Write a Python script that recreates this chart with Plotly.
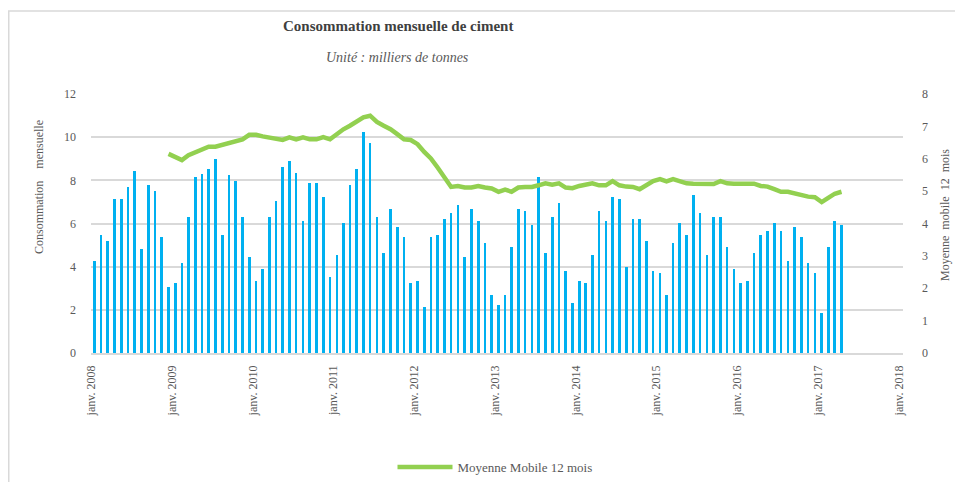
import plotly.graph_objects as go
import pandas as pd

# Monthly cement consumption (Jan 2008 - Apr 2017)
months = pd.date_range("2008-01-01", "2017-04-01", freq="MS").strftime("%Y-%m-%d").tolist()

consommation = [
    4.26, 5.48, 5.19, 7.14, 7.14, 7.69, 8.44, 4.81, 7.77, 7.51, 5.37, 3.07,   # 2008
    3.25, 4.18, 6.32, 8.16, 8.31, 8.53, 8.98, 5.48, 8.24, 7.97, 6.32, 4.44,   # 2009
    3.34, 3.90, 6.32, 7.04, 8.61, 8.90, 8.33, 6.11, 7.86, 7.86, 7.23, 3.53,   # 2010
    4.54, 6.02, 7.77, 8.51, 10.26, 9.72, 6.32, 4.64, 6.67, 5.84, 5.37, 3.25,  # 2011
    3.33, 2.12, 5.37, 5.46, 6.19, 6.49, 6.86, 4.44, 6.67, 6.11, 5.09, 2.68,   # 2012
    2.23, 2.68, 4.91, 6.67, 6.56, 5.93, 8.14, 4.63, 6.32, 6.95, 3.79, 2.32,   # 2013
    3.34, 3.25, 4.54, 6.58, 6.11, 7.23, 7.14, 3.98, 6.21, 6.21, 5.19, 3.79,   # 2014
    3.72, 2.68, 5.09, 6.02, 5.46, 7.32, 6.49, 4.54, 6.32, 6.32, 4.91, 3.90,   # 2015
    3.25, 3.33, 4.63, 5.46, 5.65, 6.02, 5.65, 4.26, 5.84, 5.37, 4.16, 3.72,   # 2016
    1.86, 4.91, 6.11, 5.93,                                                   # 2017
]

# 12-month moving average (Dec 2008 - Apr 2017)
mm_months = months[11:]
moyenne_mobile = [
    6.15,                                                                      # Dec 2008
    6.07, 5.96, 6.11, 6.19, 6.30, 6.37, 6.37, 6.42, 6.48, 6.54, 6.60, 6.74,   # 2009
    6.74, 6.69, 6.66, 6.60, 6.58, 6.66, 6.60, 6.66, 6.60, 6.60, 6.67, 6.60,   # 2010
    6.76, 6.91, 7.02, 7.15, 7.28, 7.33, 7.14, 7.02, 6.91, 6.76, 6.60, 6.58,   # 2011
    6.45, 6.21, 6.01, 5.73, 5.42, 5.13, 5.16, 5.11, 5.11, 5.16, 5.11, 5.08,   # 2012
    4.98, 5.05, 4.98, 5.11, 5.13, 5.13, 5.18, 5.24, 5.20, 5.24, 5.11, 5.09,   # 2013
    5.16, 5.21, 5.24, 5.18, 5.18, 5.31, 5.18, 5.14, 5.13, 5.06, 5.18, 5.31,   # 2014
    5.37, 5.30, 5.37, 5.31, 5.24, 5.23, 5.22, 5.22, 5.22, 5.31, 5.24, 5.23,   # 2015
    5.23, 5.23, 5.23, 5.16, 5.14, 5.06, 4.98, 4.98, 4.92, 4.87, 4.83, 4.81,   # 2016
    4.66, 4.79, 4.92, 4.98,                                                   # 2017
]

tick_vals = [f"{y}-01-01" for y in range(2008, 2019)]
tick_text = [f"janv. {y}" for y in range(2008, 2019)]

FONT = "Liberation Serif"
GRAY = "#595959"

# page body has an 8px margin: figure drawn 8px in from the window's corner
W, H = 955, 474
L, T, R, B = 83, 86, 60, 129
PW, PH = W - L - R, H - T - B


def px(xabs):
    return (xabs - 8 - L) / PW


def py(yabs):
    return (H - B - (yabs - 8)) / PH


fig = go.Figure()
fig.add_trace(go.Bar(
    x=months, y=consommation, name="Consommation mensuelle",
    xperiod="M1", xperiodalignment="middle",
    width=[12 * 86400000] * len(months),
    marker=dict(color="#00B0F0", line=dict(width=0)),
    showlegend=False,
))
fig.add_trace(go.Scatter(
    x=mm_months, y=moyenne_mobile, name="Moyenne Mobile 12 mois",
    xperiod="M1", xperiodalignment="middle",
    mode="lines", line=dict(color="#92D050", width=4.5),
    yaxis="y2",
))

fig.update_layout(
    width=W, height=H,
    margin=dict(l=L, r=R, t=T, b=B, autoexpand=False),
    paper_bgcolor="white", plot_bgcolor="white",
    font=dict(family=FONT, color=GRAY, size=12),
    xaxis=dict(
        type="date", range=["2008-01-01", "2018-01-19"],
        tickvals=tick_vals, ticktext=tick_text, tickangle=-90,
        showgrid=False, showline=True, linecolor="#D9D9D9", linewidth=1.5,
        ticks="", ticklabelstandoff=6,
        tickfont=dict(family=FONT, size=12, color=GRAY),
    ),
    yaxis=dict(
        range=[0, 12], dtick=2, showgrid=True, gridcolor="#D9D9D9", gridwidth=1.5,
        zeroline=False, showline=False, ticks="", ticklabelstandoff=14,
        tickfont=dict(family=FONT, size=12, color=GRAY),
    ),
    yaxis2=dict(
        range=[0, 8], dtick=1, overlaying="y", side="right", showgrid=False,
        zeroline=False, showline=False, ticks="", ticklabelstandoff=18,
        tickfont=dict(family=FONT, size=12, color=GRAY),
    ),
    legend=dict(
        orientation="h", x=px(495), y=py(467), xanchor="center", yanchor="middle",
        font=dict(family=FONT, size=13, color=GRAY), itemwidth=55,
        bgcolor="rgba(0,0,0,0)",
    ),
    bargap=0,
    shapes=[dict(
        type="rect", xref="paper", yref="paper",
        x0=(0.75 - L) / PW, x1=px(990), y0=py(520), y1=py(11),
        line=dict(color="#D9D9D9", width=1.5), layer="below",
    )],
    annotations=[
        dict(text="<b>Consommation mensuelle de ciment</b>", xref="paper", yref="paper",
             x=px(398), y=py(26), showarrow=False,
             xanchor="center", yanchor="middle",
             font=dict(family=FONT, size=15, color="#404040")),
        dict(text="<i>Unité : milliers de tonnes</i>", xref="paper", yref="paper",
             x=px(397), y=py(57), showarrow=False,
             xanchor="center", yanchor="middle",
             font=dict(family=FONT, size=14, color="#595959")),
        dict(text="Consommation    mensuelle", xref="paper", yref="paper",
             x=px(39), y=py(187), showarrow=False, textangle=-90,
             xanchor="center", yanchor="middle",
             font=dict(family=FONT, size=12, color=GRAY)),
        dict(text="Moyenne  mobile  12  mois", xref="paper", yref="paper",
             x=px(945), y=py(215), showarrow=False, textangle=-90,
             xanchor="center", yanchor="middle",
             font=dict(family=FONT, size=12, color=GRAY)),
    ],
)

fig.write_html("out.html")
